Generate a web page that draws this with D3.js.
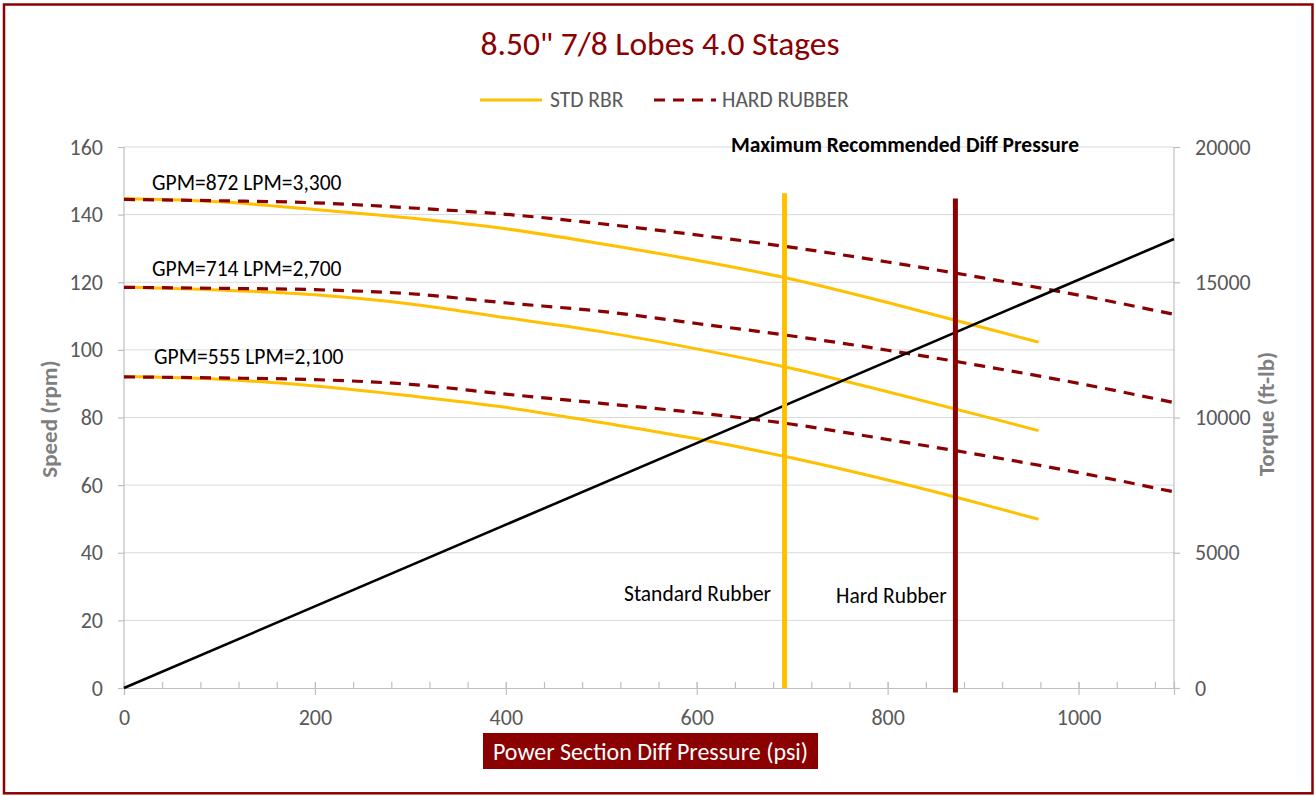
<!DOCTYPE html>
<html><head><meta charset="utf-8">
<script src="https://cdn.jsdelivr.net/npm/d3@7"></script>
<style>html,body{margin:0;padding:0;background:#fff;} svg{display:block;font-family:Carlito,Lato,sans-serif;}</style>
</head><body>
<svg id="c" width="1316" height="796"></svg>
<script>
// ---- data ----
const title = '8.50" 7/8 Lobes 4.0 Stages';
const seriesNames = ["STD RBR", "HARD RUBBER"];
const pressureStd = [0,100,200,300,400,500,600,700,800,900,958];
const std872 = [144.8,143.8,141.5,139,135.8,131.4,126.5,120.9,114,106.6,102.3];
const std714 = [118.5,117.7,116.3,113.6,109.5,105.4,100.3,94.5,87.6,80.4,76.1];
const std555 = [92.1,91.3,89.3,86.4,83,78.5,73.7,68,61.5,54.3,49.9];
const pressureHard = [0,100,200,300,400,500,600,700,800,900,1000,1100];
const hard872 = [144.5,144.1,143.5,142,140.1,137.3,134,130.3,126,121.3,116.2,110.5];
const hard714 = [118.5,118.2,117.8,116.6,113.9,111.4,107.8,104.1,99.9,95.2,90.1,84.4];
const hard555 = [92,91.7,91.2,89.8,86.9,84.2,81.4,78,73.5,68.8,63.7,58];
const torquePressure = [0,1100];
const torqueValues = [0,16600];
const stdMaxPressure = [692,692];
const stdMaxSpeed = [0,146.3];
const hardMaxPressure = [871,871];
const hardMaxSpeed = [-1.3,144.8];
const flowLabels = ["GPM=872 LPM=3,300","GPM=714 LPM=2,700","GPM=555 LPM=2,100"];
const flowLabelSpeed = [147.4,121.9,95.8];
const xTicks = [0,200,400,600,800,1000];
const yLeftTicks = [0,20,40,60,80,100,120,140,160];
const yRightTicks = [0,5000,10000,15000,20000];

// ---- layout ----
const svg = d3.select("#c");
const FONT = "Carlito,Lato,sans-serif";
const DR = "#8B0000", YEL = "#FFC000", GRID = "#d9d9d9", AX = "#bfbfbf", TXT = "#595959";
const x = d3.scaleLinear().domain([0,1100]).range([124,1174]);
const yL = d3.scaleLinear().domain([0,160]).range([688,147]);
const yR = d3.scaleLinear().domain([0,20000]).range([688,147]);

// border
svg.append("rect").attr("x",4).attr("y",4.5).attr("width",1308.5).attr("height",788.8)
  .attr("fill","none").attr("stroke",DR).attr("stroke-width",2.5);

// gridlines
svg.append("g").selectAll("line").data(yLeftTicks.filter(d=>d>0)).join("line")
  .attr("x1",124).attr("x2",1174).attr("y1",d=>yL(d)).attr("y2",d=>yL(d))
  .attr("stroke",GRID).attr("stroke-width",1);

// axes
const fmt = d3.format("d");
const gL = svg.append("g").attr("transform","translate(124,0)")
  .call(d3.axisLeft(yL).tickValues(yLeftTicks).tickSize(6).tickPadding(15).tickFormat(fmt));
const gR = svg.append("g").attr("transform","translate(1174,0)")
  .call(d3.axisRight(yR).tickValues(yRightTicks).tickSize(6).tickPadding(15).tickFormat(fmt));
const gXm = svg.append("g").attr("transform","translate(0,688)")
  .call(d3.axisTop(x).tickValues(d3.range(0,1101,40)).tickSize(6).tickFormat(""));
const gX = svg.append("g").attr("transform","translate(0,688)")
  .call(d3.axisBottom(x).tickValues(xTicks).tickSize(7).tickPadding(14).tickFormat(fmt));
gX.selectAll(".tick line").attr("y1",-6);
[gL,gR,gXm,gX].forEach(g=>{
  g.select(".domain").attr("stroke",AX).attr("stroke-width",1.2);
  g.selectAll(".tick line").attr("stroke",AX).attr("stroke-width",1.2);
  g.selectAll(".tick text").attr("fill",TXT).style("font-size","22px").style("font-family",FONT);
});
gL.select(".domain").attr("d","M0,147V688");
gR.select(".domain").attr("d","M0,147V688");

// lines
const lineL = (xs,ys)=>d3.line().x((d,i)=>x(xs[i])).y((d,i)=>yL(ys[i])).curve(d3.curveMonotoneX)(ys);
const plot = svg.append("g");
[std872,std714,std555].forEach(s=>{
  plot.append("path").attr("d",lineL(pressureStd,s)).attr("fill","none")
    .attr("stroke",YEL).attr("stroke-width",3);
});
[hard872,hard714,hard555].forEach(s=>{
  plot.append("path").attr("d",lineL(pressureHard,s)).attr("fill","none")
    .attr("stroke",DR).attr("stroke-width",3.2).attr("stroke-dasharray","11,8");
});
plot.append("path").attr("d",d3.line().x((d,i)=>x(torquePressure[i])).y((d,i)=>yR(torqueValues[i]))(torqueValues))
  .attr("fill","none").attr("stroke","#000").attr("stroke-width",2.6);
plot.append("path").attr("d",d3.line().x((d,i)=>x(stdMaxPressure[i])).y((d,i)=>yL(stdMaxSpeed[i]))(stdMaxSpeed))
  .attr("fill","none").attr("stroke",YEL).attr("stroke-width",5);
plot.append("path").attr("d",d3.line().x((d,i)=>x(hardMaxPressure[i])).y((d,i)=>yL(hardMaxSpeed[i]))(hardMaxSpeed))
  .attr("fill","none").attr("stroke",DR).attr("stroke-width",5);

// annotations
const ann = svg.append("g").style("font-family",FONT).attr("fill","#000");
flowLabels.forEach((t,i)=>{
  ann.append("text").attr("x",i==2?154:152).attr("y",yL(flowLabelSpeed[i])).text(t).style("font-size","21.5px");
});
ann.append("text").attr("x",731).attr("y",152).text("Maximum Recommended Diff Pressure")
  .style("font-size","21.5px").style("font-weight","bold");
ann.append("text").attr("x",624).attr("y",601).text("Standard Rubber").style("font-size","21.5px");
ann.append("text").attr("x",836).attr("y",603).text("Hard Rubber").style("font-size","21.5px");

// title
svg.append("text").attr("x",660).attr("y",55).attr("text-anchor","middle")
  .attr("fill",DR).style("font-size","33.5px").text(title);

// legend
const lg = svg.append("g");
lg.append("line").attr("x1",480).attr("x2",542).attr("y1",100).attr("y2",100).attr("stroke",YEL).attr("stroke-width",3);
lg.append("text").attr("x",550).attr("y",107).attr("fill",TXT).style("font-size","21.5px").text(seriesNames[0]);
lg.append("line").attr("x1",654).attr("x2",716).attr("y1",100).attr("y2",100).attr("stroke",DR).attr("stroke-width",3.2).attr("stroke-dasharray","11,8");
lg.append("text").attr("x",722).attr("y",107).attr("fill",TXT).style("font-size","21.5px").text(seriesNames[1]);

// axis titles
svg.append("text").attr("transform","translate(57,419) rotate(-90)").attr("text-anchor","middle")
  .attr("fill","#7f7f7f").style("font-size","23px").style("font-weight","bold").text("Speed (rpm)");
svg.append("text").attr("transform","translate(1274,414) rotate(-90)").attr("text-anchor","middle")
  .attr("fill","#7f7f7f").style("font-size","23px").style("font-weight","bold").text("Torque (ft-lb)");

// x axis title box
svg.append("rect").attr("x",483).attr("y",733).attr("width",335).attr("height",36).attr("fill",DR);
svg.append("text").attr("x",650.5).attr("y",760).attr("text-anchor","middle").attr("fill","#fff")
  .style("font-size","24px").text("Power Section Diff Pressure (psi)");
</script>
</body></html>
